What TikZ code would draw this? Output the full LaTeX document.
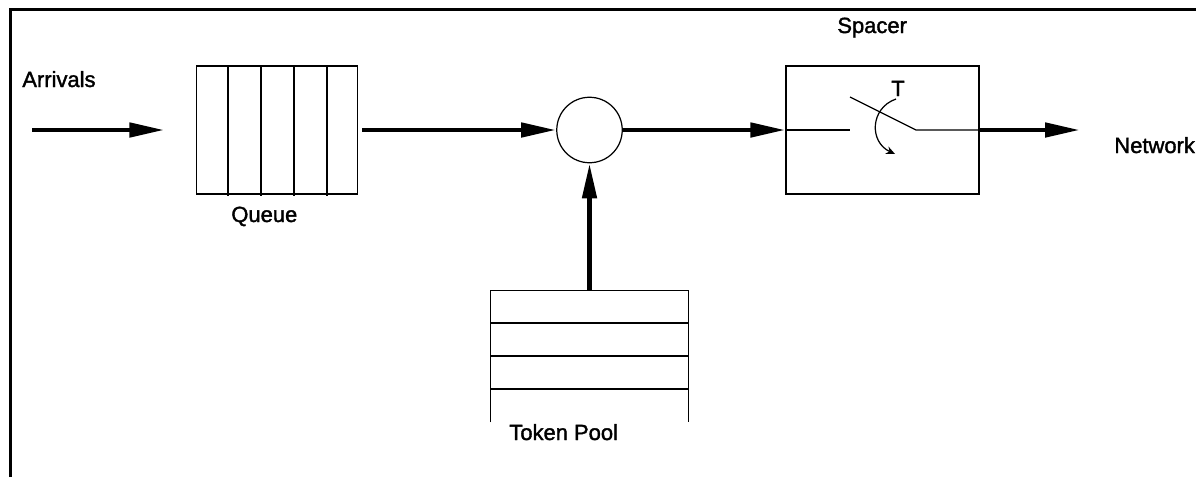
\documentclass[tikz,border=0pt]{standalone}
\usepackage{fontspec}
\setmainfont{Liberation Sans}
\newfontfamily\lblfont{Liberation Sans}[FakeBold=1.6]
\usetikzlibrary{positioning,arrows.meta}

\tikzset{
  flow/.style = {line width = 2.7pt, -{Triangle[length = 0.7cm, width = 0.28cm]}},
  thinline/.style = {line width = 0.7pt},
  lbl/.style = {font = \lblfont\fontsize{12.5}{15}\selectfont, inner sep = 0pt, anchor = base west},
}

\begin{document}
\begin{tikzpicture}[x = 0.02cm, y = -0.02cm]
                \useasboundingbox (0, 0) rectangle (1196, 477);

                % frame
                \draw [line width = 2pt] (10.5, 477) -- (10.5, 9.5) -- (1196, 9.5);

                % queue, cells
                \node [draw, thinline, minimum width = 3.22cm, minimum height = 2.56cm, inner sep = 0pt] (queue) at (277, 130) {};
                \foreach \x in {228, 261, 294, 327}
                \draw [thinline] (\x, 66) -- (\x, 196);

                % mixing point
                \node [draw, thinline, circle, minimum size = 1.31cm, inner sep = 0pt] (mix) at (589.5, 130) {};

                % spacer with switch
                \node [draw, thinline, minimum width = 3.86cm, minimum height = 2.56cm, inner sep = 0pt] (spacer) at (882.5, 130) {};
                \draw [thinline] (spacer.west) -- (850, 130);
                \draw [thinline] (850, 97) -- (916, 130) -- (spacer.east);
                \draw [thinline, -{Stealth[length = 0.18cm, width = 0.16cm]}] (896, 99) .. controls (870, 108) and (869, 142) .. (895, 154);

                % token pool, open at the bottom
                \node [minimum width = 3.94cm, minimum height = 2.62cm, inner sep = 0pt] (pool) at (589.5, 356.5) {};
                \draw [thinline] (pool.south west) -- (pool.north west) -- (pool.north east) -- (pool.south east);
                \foreach \y in {323, 356, 389}
                \draw [thinline] (pool.west |- 0, \y) -- (pool.east |- 0, \y);

                % flows
                \coordinate (src) at (32, 130);
                \coordinate (dst) at (1080, 130);
                \draw [flow, shorten > = 0.63cm] (src) -- (queue.west);
                \draw [flow, shorten < = 0.08cm] (queue.east) -- (mix.west);
                \draw [flow] (mix.east) -- (spacer.west);
                \draw [flow] (spacer.east) -- (dst);
                \draw [flow] (pool.north) -- (mix.south);

                % labels
                \node [lbl] (arrlbl) at (22, 87) {Arrivals};
                \node [lbl] (queuelbl) at (231, 222) {Queue};
                \node [lbl] (spacerlbl) at (837, 33) {Spacer};
                \node [lbl] (netlbl) at (1114, 153) {Network};
                \node [lbl] (poollbl) at (509, 440) {Token Pool};
                \node [lbl, anchor = base] (tlbl) at (898, 96) {T};
            \end{tikzpicture}
\end{document}
